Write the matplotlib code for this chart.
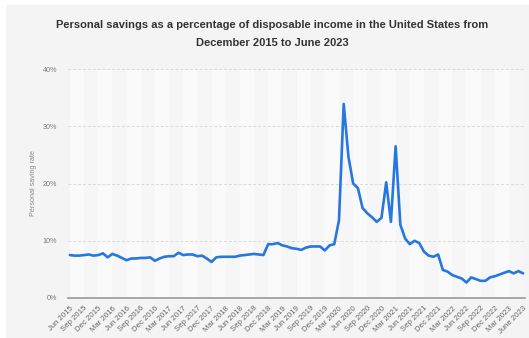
import matplotlib.pyplot as plt
from matplotlib.patches import Rectangle

# monthly personal saving rate (%), June 2015 - June 2023
saving_rate = [
    7.5, 7.4, 7.4, 7.5, 7.6, 7.4, 7.5, 7.8, 7.1, 7.7, 7.4, 7.0,
    6.6, 6.9, 6.9, 7.0, 7.0, 7.1, 6.5, 6.9, 7.2, 7.3, 7.3, 7.9,
    7.5, 7.6, 7.6, 7.3, 7.4, 6.9, 6.3, 7.1, 7.2, 7.2, 7.2, 7.2,
    7.4, 7.5, 7.6, 7.7, 7.6, 7.5, 9.4, 9.4, 9.6, 9.2, 9.0, 8.7,
    8.6, 8.4, 8.8, 9.0, 9.0, 9.0, 8.3, 9.2, 9.4, 13.6, 33.9, 24.7,
    20.0, 19.2, 15.7, 14.8, 14.1, 13.3, 14.0, 20.2, 13.3, 26.5, 12.8, 10.4,
    9.4, 10.0, 9.6, 8.1, 7.4, 7.2, 7.6, 4.9, 4.6, 4.0, 3.7, 3.4,
    2.7, 3.6, 3.3, 3.0, 3.0, 3.6, 3.8, 4.1, 4.4, 4.7, 4.3, 4.7,
    4.3,
]

tick_labels = [
    "Jun 2015", "Sep 2015", "Dec 2015", "Mar 2016", "Jun 2016", "Sep 2016",
    "Dec 2016", "Mar 2017", "Jun 2017", "Sep 2017", "Dec 2017", "Mar 2018",
    "Jun 2018", "Sep 2018", "Dec 2018", "Mar 2019", "Jun 2019", "Sep 2019",
    "Dec 2019", "Mar 2020", "Jun 2020", "Sep 2020", "Dec 2020", "Mar 2021",
    "Jun 2021", "Sep 2021", "Dec 2021", "Mar 2022", "Jun 2022", "Sep 2022",
    "Dec 2022", "Mar 2023", "June 2023",
]

y_ticks = [0, 10, 20, 30, 40]

plt.rcParams['font.family'] = ['Liberation Sans', 'DejaVu Sans']

bg = '#f4f4f4'
fig = plt.figure(figsize=(5.29, 3.38), dpi=100, facecolor='white')
fig.patches.append(Rectangle((6 / 529, 0), 1, 1 - 5 / 338,
                             transform=fig.transFigure, facecolor=bg,
                             edgecolor='none', zorder=-10))

ax = fig.add_axes([68 / 529, 40 / 338, 457 / 529, 229 / 338])
ax.set_facecolor(bg)

months = list(range(len(saving_rate)))
tick_pos = months[::3]

# alternating column bands between labelled months
for i in range(len(tick_pos) - 1):
    if i % 2 == 0:
        ax.axvspan(tick_pos[i], tick_pos[i + 1], color='#fafafa', lw=0, zorder=0)
    else:
        ax.axvspan(tick_pos[i], tick_pos[i + 1], color='#f6f6f6', lw=0, zorder=0)

for y in y_ticks[1:]:
    ax.axhline(y, color='#dadada', lw=0.7, ls=(0, (3, 2)), zorder=1)

ax.plot(months, saving_rate, color='#2677e0', lw=1.9, zorder=3,
        solid_joinstyle='round', solid_capstyle='round')

ax.set_xlim(-0.4, len(saving_rate) - 1 + 0.4)
ax.set_ylim(0, 40)

ax.set_xticks(tick_pos)
ax.set_xticklabels(tick_labels, rotation=45, ha='right',
                   rotation_mode='anchor', fontsize=5.6, color='#666666')
ax.set_yticks(y_ticks)
ax.set_yticklabels([f"{v}%" for v in y_ticks], fontsize=5.2, color='#7a7a7a')
ax.tick_params(axis='both', length=0)
ax.tick_params(axis='x', pad=5)
ax.tick_params(axis='y', pad=8)

for side in ['top', 'right', 'left']:
    ax.spines[side].set_visible(False)
ax.spines['bottom'].set_color('#9a9a9a')
ax.spines['bottom'].set_linewidth(1.2)
ax.spines['bottom'].set_zorder(4)

ax.set_ylabel("Personal saving rate", fontsize=5.2, color='#8a8a8a')
ax.yaxis.set_label_coords(-0.068, 0.5)

fig.text(0.514, 0.927, "Personal savings as a percentage of disposable income in the United States from",
         ha='center', va='center', fontsize=8.0, fontweight='bold', color='#333333')
fig.text(0.514, 0.872, "December 2015 to June 2023",
         ha='center', va='center', fontsize=8.0, fontweight='bold', color='#333333')

fig.savefig('out.png', dpi=100, facecolor=fig.get_facecolor())
